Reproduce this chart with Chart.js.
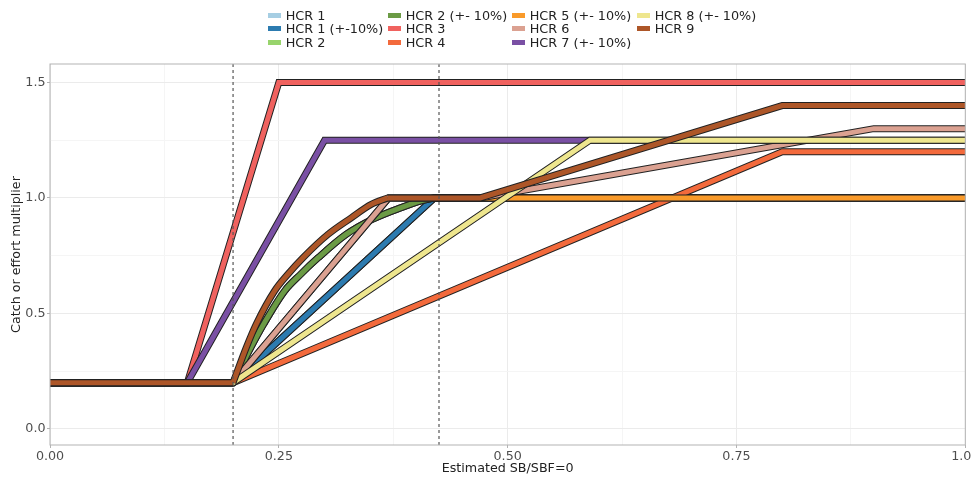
<!DOCTYPE html>
<html>
<head>
<meta charset="utf-8">
<script src="https://cdn.jsdelivr.net/npm/chart.js@4.4.1/dist/chart.umd.min.js"></script>
<style>
  html, body { margin: 0; padding: 0; background: #fff; }
  #wrap { position: relative; width: 971px; height: 479px; }
  #legend {
    position: absolute; left: 268px; top: 9px;
    display: grid; grid-auto-flow: column;
    grid-template-columns: 120px 124px 125px auto;
    grid-template-rows: repeat(3, 13.3px);
    font-family: 'DejaVu Sans', sans-serif; font-size: 12.8px; color: #222;
  }
  .item { display: flex; align-items: center; white-space: nowrap; line-height: 13.3px; }
  .sw { width: 13px; height: 5px; margin-right: 4.7px; }
</style>
</head>
<body>
<div id="wrap">
  <canvas id="hcrChart" width="971" height="479"></canvas>
  <div id="legend"></div>
</div>
<script>
// ─── HCR CURVES ──────────────────────────────────────────────────────────────

const labels = ['HCR 1', 'HCR 1 (+-10%)', 'HCR 2', 'HCR 2 (+- 10%)', 'HCR 3', 'HCR 4',
                'HCR 5 (+- 10%)', 'HCR 6', 'HCR 7 (+- 10%)', 'HCR 8 (+- 10%)', 'HCR 9'];
const colors = ['#a6cee3', '#2c7bb0', '#98d46c', '#6b9b45', '#f0625f', '#f36a3c',
                '#f99a2a', '#dba191', '#7a50a4', '#eee68e', '#ad5628'];

// [SB/SBF=0, multiplier]
const hcr1  = [[0, 0.2], [0.2, 0.2], [0.42, 1.0], [1, 1.0]];
const hcr1b = [[0, 0.2], [0.2, 0.2], [0.42, 1.0], [1, 1.0]];
const hcr2  = [[0, 0.2], [0.2, 0.2], [0.2195, 0.353], [0.2335, 0.454], [0.2565, 0.598], [0.274, 0.67],
               [0.293, 0.741], [0.3235, 0.842], [0.352, 0.907], [0.383, 0.957], [0.4065, 0.988], [0.42, 1.0], [1, 1.0]];
const hcr2b = [[0, 0.2], [0.2, 0.2], [0.2195, 0.353], [0.2335, 0.454], [0.2565, 0.598], [0.274, 0.67],
               [0.293, 0.741], [0.3235, 0.842], [0.352, 0.907], [0.383, 0.957], [0.4065, 0.988], [0.42, 1.0], [1, 1.0]];
const hcr3  = [[0, 0.2], [0.15, 0.2], [0.25, 1.5], [1, 1.5]];
const hcr4  = [[0, 0.2], [0.2, 0.2], [0.8, 1.2], [1, 1.2]];
const hcr5  = [[0, 0.2], [0.2, 0.2], [0.37, 1.0], [1, 1.0]];
const hcr6  = [[0, 0.2], [0.2, 0.2], [0.37, 1.0], [0.47, 1.0], [0.9, 1.3], [1, 1.3]];
const hcr7  = [[0, 0.2], [0.15, 0.2], [0.3, 1.25], [1, 1.25]];
const hcr8  = [[0, 0.2], [0.2, 0.2], [0.59, 1.25], [1, 1.25]];
const hcr9  = [[0, 0.2], [0.2, 0.2], [0.2145, 0.353], [0.2254, 0.454], [0.2455, 0.598], [0.26, 0.67],
               [0.2764, 0.741], [0.3037, 0.842], [0.3292, 0.914], [0.351, 0.972], [0.369, 1.0], [0.47, 1.0], [0.8, 1.4], [1, 1.4]];
const series = [hcr1, hcr1b, hcr2, hcr2b, hcr3, hcr4, hcr5, hcr6, hcr7, hcr8, hcr9];
// first and last point index of the smooth part of a curved rule
const bends = { 2: [1, 11], 3: [1, 11], 10: [1, 10] };

const refX = [0.2, 0.425];
const yMin = -0.07, yMax = 1.58;
const xTicks  = [0, 0.125, 0.25, 0.375, 0.5, 0.625, 0.75, 0.875, 1];
const xLabels = ['0.00', '', '0.25', '', '0.50', '', '0.75', '', '1.00'];
const yTicks  = [0, 0.25, 0.5, 0.75, 1, 1.25, 1.5];
const yLabels = ['0.0', '', '0.5', '', '1.0', '', '1.5'];

const toPts = arr => arr.map(p => ({ x: p[0], y: p[1] }));
const n = series.length;

// split a rule into straight and smooth pieces
function pieces(s, i) {
  const b = bends[i];
  if (!b) return [{ pts: s, smooth: false }];
  return [
    { pts: s.slice(0, b[0] + 1), smooth: false },
    { pts: s.slice(b[0], b[1] + 1), smooth: true },
    { pts: s.slice(b[1]), smooth: false }
  ];
}

let datasets = [];
series.forEach((s, i) => {
  pieces(s, i).forEach(p => {
    const mode = p.smooth ? 'monotone' : 'default';
    // black outline under each coloured line
    datasets.push({ data: toPts(p.pts), cubicInterpolationMode: mode, borderColor: '#222', borderWidth: 7, order: 2 * (n - i) + 1 });
    datasets.push({ data: toPts(p.pts), cubicInterpolationMode: mode, borderColor: colors[i], borderWidth: 5, order: 2 * (n - i) });
  });
});
refX.forEach(x => {
  datasets.push({ data: [{ x, y: yMin }, { x, y: yMax }], borderColor: '#555', borderWidth: 1.2, borderDash: [3, 3], order: -1 });
});

// legend, column-major like the original
document.getElementById('legend').innerHTML = labels.map((l, i) =>
  `<div class="item"><span class="sw" style="background:${colors[i]}"></span>${l}</div>`).join('');

const panelBorder = {
  id: 'panelBorder',
  afterDatasetsDraw(chart) {
    const { ctx, chartArea: a } = chart;
    ctx.save();
    ctx.strokeStyle = '#b3b3b3';
    ctx.lineWidth = 1;
    ctx.strokeRect(a.left, a.top, a.right - a.left, a.bottom - a.top);
    ctx.restore();
  }
};

Chart.defaults.font.family = "'DejaVu Sans', sans-serif";
Chart.defaults.font.size = 12.7;

new Chart(document.getElementById('hcrChart').getContext('2d'), {
  type: 'line',
  data: { datasets },
  options: {
    responsive: false,
    animation: false,
    devicePixelRatio: 1,
    layout: { padding: { top: 64, right: 5.7, left: 0, bottom: 0 } },
    elements: {
      point: { radius: 0, hoverRadius: 0 },
      line: { tension: 0, borderJoinStyle: 'miter', fill: false }
    },
    plugins: { legend: { display: false }, tooltip: { enabled: false } },
    scales: {
      x: {
        type: 'linear', min: 0, max: 1,
        afterBuildTicks: s => { s.ticks = xTicks.map(v => ({ value: v })); },
        afterFit: s => { s.height = 34; s.paddingLeft = 0; s.paddingRight = 0; },
        ticks: { autoSkip: false, maxRotation: 0, padding: 1, color: '#4d4d4d', callback: (v, i) => xLabels[i] },
        grid: {
          color: c => xLabels[c.index] ? '#ebebeb' : '#f5f5f5',
          tickColor: c => xLabels[c.index] ? '#b3b3b3' : 'rgba(0,0,0,0)',
          tickLength: 3
        },
        border: { display: false },
        title: { display: true, text: 'Estimated SB/SBF=0', color: '#222', padding: { top: 0, bottom: 3 } }
      },
      y: {
        type: 'linear', min: yMin, max: yMax,
        afterBuildTicks: s => { s.ticks = yTicks.map(v => ({ value: v })); },
        afterFit: s => { s.width = 50; s.paddingTop = 0; s.paddingBottom = 0; },
        ticks: { autoSkip: false, padding: 1.5, color: '#4d4d4d', callback: (v, i) => yLabels[i] },
        grid: {
          color: c => yLabels[c.index] ? '#ebebeb' : '#f5f5f5',
          tickColor: c => yLabels[c.index] ? '#b3b3b3' : 'rgba(0,0,0,0)',
          tickLength: 3
        },
        border: { display: false },
        title: { display: true, text: 'Catch or effort multiplier', color: '#222', padding: { top: 9, bottom: 0 } }
      }
    }
  },
  plugins: [panelBorder]
});
</script>
</body>
</html>
